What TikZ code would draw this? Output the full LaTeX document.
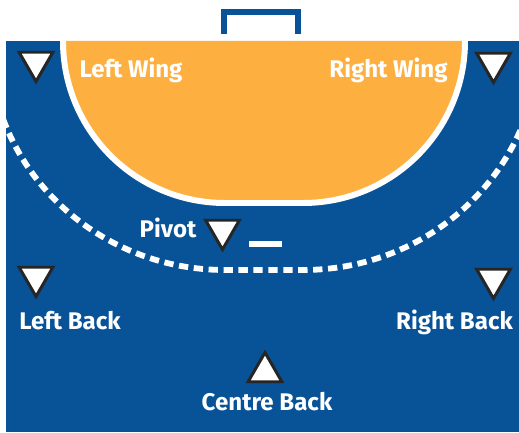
\documentclass[tikz,border=0pt]{standalone}
\usepackage{fontspec}
\setmainfont{Fira Sans}
\usetikzlibrary{shapes.geometric}
\definecolor{courtblue}{HTML}{085297}
\definecolor{zoneorange}{HTML}{FDB040}
\begin{document}
\begin{tikzpicture}[x=0.02cm, y=0.02cm]
        \tikzstyle{lbl}=[text=white, font=\fontsize{13.7}{16}\selectfont\bfseries, inner sep=0pt, anchor=base]
        \tikzstyle{dn}=[regular polygon, regular polygon sides=3, shape border rotate=180, draw=black!85, fill=white, line width=1.7pt, minimum size=0.78cm, inner sep=0pt, outer sep=0pt]
        \tikzstyle{up}=[dn, shape border rotate=0]
        \useasboundingbox (0,0) rectangle (519,432);

        % court
        \fill[courtblue] (6,0) rectangle (519,391);
        \draw[courtblue, line width=3.4pt] (224,398) -- (224,420) -- (298,420) -- (298,398);

        % goal area
        \fill[zoneorange] (63,391) arc[start angle=180, end angle=270, radius=162] -- (303,229) arc[start angle=270, end angle=360, radius=162] -- cycle;
        \draw[white, line width=3.4pt] (63,391) arc[start angle=180, end angle=270, radius=162] -- (303,229) arc[start angle=270, end angle=360, radius=162];

        % free throw line
        \begin{scope}
            \clip (6,0) rectangle (519,391);
            \draw[white, line width=3.3pt, dash pattern=on 5.3pt off 3.2pt] (3.2,312.7) arc[start angle=200, end angle=270, x radius=236, y radius=229] -- (303,162) arc[start angle=270, end angle=340, x radius=236, y radius=229];
        \end{scope}
        \draw[white, line width=3.4pt] (249,188) -- (282,188);

        \node[dn] (LW) at (36,370) {};
        \node[dn] (RW) at (493.5,369) {};
        \node[dn] (PV) at (222.5,202) {};
        \node[dn] (LB) at (36,155) {};
        \node[dn] (RB) at (493.5,153) {};
        \node[up] (CB) at (265,60) {};

        \node[lbl] (LWT) at (131,354) {Left Wing};
        \node[lbl] (RWT) at (388.5,354) {Right Wing};
        \node[lbl] (PVT) at (168,194) {Pivot};
        \node[lbl] (LBT) at (70,103) {Left Back};
        \node[lbl] (RBT) at (454.5,103) {Right Back};
        \node[lbl] (CBT) at (267,22) {Centre Back};
    \end{tikzpicture}
\end{document}
